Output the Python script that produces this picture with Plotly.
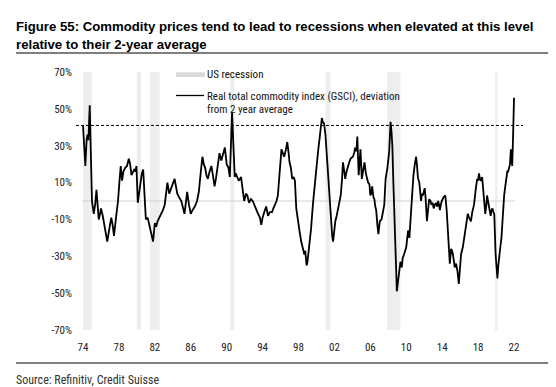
import plotly.graph_objects as go

# ---- data ----
years = [1974.0, 1974.15, 1974.26, 1974.4, 1974.5, 1974.6, 1974.75, 1974.9, 1975.0, 1975.2, 1975.35, 1975.5, 1975.65, 1975.75, 1975.9,
         1976.0, 1976.2, 1976.4, 1976.55, 1976.7, 1976.9, 1977.15, 1977.3, 1977.45, 1977.7, 1977.9, 1978.05, 1978.2, 1978.35, 1978.5,
         1978.7, 1978.9, 1979.1, 1979.25, 1979.4, 1979.55, 1979.7, 1979.85, 1979.95, 1980.1, 1980.25, 1980.4, 1980.55, 1980.7, 1980.85,
         1981.0, 1981.2, 1981.4, 1981.6, 1981.8, 1982.0, 1982.15, 1982.3, 1982.5, 1982.7, 1982.9, 1983.1, 1983.25, 1983.4, 1983.6,
         1983.8, 1984.0, 1984.2, 1984.35, 1984.5, 1984.7, 1984.95, 1985.1, 1985.3, 1985.45, 1985.6, 1985.8, 1986.0, 1986.2, 1986.45,
         1986.7, 1986.9, 1987.1, 1987.3, 1987.45, 1987.6, 1987.75, 1987.9, 1988.1, 1988.3, 1988.5, 1988.65, 1988.8, 1988.95, 1989.2,
         1989.4, 1989.6, 1989.8, 1990.0, 1990.2, 1990.35, 1990.5, 1990.6, 1990.75, 1990.9, 1991.0, 1991.2, 1991.35, 1991.6, 1991.8,
         1991.95, 1992.15, 1992.3, 1992.5, 1992.7, 1992.9, 1993.05, 1993.2, 1993.35, 1993.5, 1993.7, 1993.85, 1994.0, 1994.1, 1994.25,
         1994.4, 1994.6, 1994.8, 1995.05, 1995.2, 1995.4, 1995.55, 1995.7, 1995.9, 1996.1, 1996.25, 1996.4, 1996.6, 1996.75, 1996.9,
         1997.0, 1997.15, 1997.3, 1997.45, 1997.6, 1997.75, 1997.9, 1998.1, 1998.3, 1998.5, 1998.65, 1998.75, 1998.9, 1999.0, 1999.1,
         1999.25, 1999.4, 1999.6, 1999.8, 1999.95, 2000.05, 2000.2, 2000.35, 2000.5, 2000.6, 2000.7, 2000.85, 2001.0, 2001.1, 2001.2,
         2001.35, 2001.45, 2001.55, 2001.65, 2001.75, 2001.85, 2002.0, 2002.1, 2002.25, 2002.4, 2002.55, 2002.7, 2002.85, 2002.95, 2003.1,
         2003.2, 2003.35, 2003.5, 2003.65, 2003.8, 2004.05, 2004.2, 2004.3, 2004.45, 2004.55, 2004.7, 2004.8, 2004.9, 2005.05, 2005.2,
         2005.35, 2005.5, 2005.6, 2005.75, 2005.9, 2006.0, 2006.1, 2006.2, 2006.35, 2006.45, 2006.55, 2006.65, 2006.8, 2006.9, 2007.05,
         2007.25, 2007.4, 2007.55, 2007.7, 2007.9, 2008.1, 2008.2, 2008.25, 2008.35, 2008.45, 2008.55, 2008.65, 2008.8, 2008.95, 2009.1,
         2009.25, 2009.35, 2009.5, 2009.6, 2009.75, 2009.9, 2010.0, 2010.2, 2010.35, 2010.45, 2010.55, 2010.7, 2010.8, 2010.95, 2011.1,
         2011.2, 2011.3, 2011.45, 2011.55, 2011.65, 2011.75, 2011.85, 2012.05, 2012.15, 2012.3, 2012.45, 2012.55, 2012.7, 2012.8, 2012.95,
         2013.05, 2013.2, 2013.3, 2013.45, 2013.55, 2013.65, 2013.75, 2013.85, 2013.95, 2014.15, 2014.35, 2014.5, 2014.65, 2014.85, 2015.0,
         2015.1, 2015.2, 2015.3, 2015.4, 2015.55, 2015.7, 2015.85, 2016.0, 2016.1, 2016.3, 2016.45, 2016.55, 2016.7, 2016.85, 2017.0,
         2017.2, 2017.35, 2017.55, 2017.75, 2017.9, 2018.0, 2018.1, 2018.2, 2018.3, 2018.45, 2018.55, 2018.65, 2018.8, 2018.9, 2019.0,
         2019.1, 2019.2, 2019.3, 2019.4, 2019.5, 2019.6, 2019.7, 2019.8, 2019.95, 2020.15, 2020.25, 2020.35, 2020.5, 2020.6, 2020.7,
         2020.8, 2020.9, 2021.0, 2021.1, 2021.25, 2021.35, 2021.45, 2021.55, 2021.65, 2021.75, 2021.8, 2021.9, 2022.0]
deviation = [41, 30, 19, 33, 36, 33, 52, 20, 0, -7, -2, 6, -4, -10, -7,
             -4, -8, -13, -17, -22, -16, -9, -13, -19, -8, 0, 10, 19, 11, 16,
             18, 19, 23, 20, 14, 16, 17, 16, 19, -1, 5, 12, 15, 17, 4,
             -10, -9, -14, -18, -22, -12, -14, -11, -9, -7, -5, -2, 4, 10, 4,
             7, 9, 12, 8, 4, 2, 0, -3, -7, -1, 5, -2, -7, -5, -3,
             0, 5, 15, 24, 20, 18, 14, 12, 16, 19, 13, 8, 12, 18, 26,
             22, 25, 29, 20, 18, 13, 30, 48, 30, 13, 15, 12, 11, 13, 5,
             0, 4, 3, -1, 1, 0, -2, -3, -5, -7, -9, -13, -9, -7, -5,
             -3, -8, -6, -6, -4, -2, 0, 3, 15, 28, 26, 24, 28, 32, 26,
             21, 18, 12, 13, 11, -4, -10, -16, -22, -26, -29, -27, -35, -33, -29,
             -22, -15, -2, 9, 16, 23, 28, 34, 40, 45, 43, 42, 36, 28, 20,
             8, 0, -7, -15, -19, -22, -15, -11, -8, -4, -1, 3, 12, 21, 16,
             12, 16, 19, 21, 23, 24, 26, 29, 27, 35, 14, 21, 28, 12, 16,
             21, 15, 12.5, 10, 9, 3, 4, 8, 2, 1, -3, -5, -14, -18, -11,
             -10, -6, -2, 12, 18, 27, 36, 43, 38, 30, 12, -5, -29, -49, -43,
             -36, -33, -36, -31, -29, -27, -25, -16, -20, -12, -4, 6, 14, 20, 24,
             19, 12.5, 10, 6, 0, 4, 3, 7, 2, -11, -4, 1, 0, -2, -1,
             -4, -2, -1, -3, 0, -2, -5, -2, 0, 2, 3, -5, -16, -34, -26,
             -27, -29, -33, -36, -34, -38, -45, -36, -29, -25, -20, -17, -11, -7, -9,
             -11, -6, -2, 7, 12, 11, 15, 12, 11, 13, 8, 2, -7, -3, 3,
             0, -3, -5, -8, -5, -4, -6, -7, -29, -42, -35, -29, -24, -20, -11,
             -4, 3, 7, 11, 16, 16, 18, 20, 28, 22, 19, 36, 56]

recession_start = [1974.0, 1980.0, 1981.45, 1990.4, 2001.0, 2007.85, 2019.88]
recession_end = [1975.0, 1980.45, 1982.55, 1990.85, 2001.55, 2009.35, 2020.15]

threshold = 41
tick_years = [1974, 1978, 1982, 1986, 1990, 1994, 1998, 2002, 2006, 2010, 2014, 2018, 2022]
tick_text = ["74", "78", "82", "86", "90", "94", "98", "02", "06", "10", "14", "18", "22"]
y_ticks = [70, 50, 30, 10, -10, -30, -50, -70]
y_text = ["70%", "50%", "30%", "10%", "-10%", "-30%", "-50%", "-70%"]

title_1 = "Figure 55: Commodity prices tend to lead to recessions when elevated at this level"
title_2 = "relative to their 2-year average"
legend_1 = "US recession"
legend_2a = "Real total commodity index (GSCI), deviation"
legend_2b = "from 2 year average"
source = "Source: Refinitiv, Credit Suisse"

# ---- geometry helpers (pixel -> paper) ----
W, H = 556, 387
L, R, T, B = 68, 41, 64, 65
PW, PH = W - L - R, H - T - B

def px(x):
    return (x - L) / PW

def py(y):
    return (H - B - y) / PH

FONT = "Roboto Condensed, Liberation Sans, Arial, sans-serif"
TFONT = "Liberation Sans, Arial, sans-serif"

fig = go.Figure()

shapes = []
for s, e in zip(recession_start, recession_end):
    shapes.append(dict(type="rect", xref="x", yref="paper", x0=s, x1=e, y0=0, y1=1,
                       fillcolor="#eeeeee", line_width=0, layer="below"))
# zero line
shapes.append(dict(type="line", xref="x", yref="y", x0=1973.9, x1=2022.1, y0=0, y1=0,
                   line=dict(color="#d0d0d0", width=1), layer="below"))
# threshold dashed line
shapes.append(dict(type="line", xref="paper", yref="y", x0=0, x1=1, y0=threshold, y1=threshold,
                   line=dict(color="#000000", width=1, dash="3px,2px")))
# title underline and bottom separator
shapes.append(dict(type="line", xref="paper", yref="paper", x0=px(8), x1=px(550), y0=py(45), y1=py(45),
                   line=dict(color="#000000", width=1.2)))
shapes.append(dict(type="line", xref="paper", yref="paper", x0=px(8), x1=px(550), y0=py(355), y1=py(355),
                   line=dict(color="#000000", width=1.2)))
# legend keys
shapes.append(dict(type="rect", xref="paper", yref="paper", x0=px(168), x1=px(197), y0=py(69), y1=py(64.3),
                   fillcolor="#d9d9d9", line_width=0))
shapes.append(dict(type="line", xref="paper", yref="paper", x0=px(168), x1=px(196), y0=py(87.5), y1=py(87.5),
                   line=dict(color="#000000", width=1.3)))

fig.add_trace(go.Scatter(x=years, y=deviation, mode="lines",
                         line=dict(color="#000000", width=1.8), showlegend=False,
                         hoverinfo="x+y"))

annotations = [
    dict(text="<b>" + title_1 + "</b>", x=px(6), y=py(19), xanchor="left", yanchor="middle",
         font=dict(family=TFONT, size=13.2, color="#000000")),
    dict(text="<b>" + title_2 + "</b>", x=px(6), y=py(36.5), xanchor="left", yanchor="middle",
         font=dict(family=TFONT, size=13.2, color="#000000")),
    dict(text=legend_1, x=px(197), y=py(66.5), xanchor="left", yanchor="middle",
         font=dict(family=FONT, size=11, color="#111111")),
    dict(text=legend_2a, x=px(197), y=py(88), xanchor="left", yanchor="middle",
         font=dict(family=FONT, size=11, color="#111111")),
    dict(text=legend_2b, x=px(197), y=py(101), xanchor="left", yanchor="middle",
         font=dict(family=FONT, size=11, color="#111111")),
    dict(text=source, x=px(6), y=py(372), xanchor="left", yanchor="middle",
         font=dict(family=FONT, size=12, color="#333333")),
]
for a in annotations:
    a.update(xref="paper", yref="paper", showarrow=False)

fig.update_layout(
    width=W, height=H,
    margin=dict(l=L, r=R, t=T, b=B),
    paper_bgcolor="#ffffff", plot_bgcolor="#ffffff",
    shapes=shapes, annotations=annotations,
    xaxis=dict(range=[1973.22, 2023.0], tickvals=tick_years, ticktext=tick_text,
               showgrid=False, zeroline=False, showline=False, automargin=False,
               ticks="outside", ticklen=7, tickcolor="rgba(0,0,0,0)",
               tickfont=dict(family=FONT, size=11, color="#222222")),
    yaxis=dict(range=[-70, 70], tickvals=y_ticks, ticktext=y_text,
               showgrid=False, zeroline=False, showline=False, automargin=False,
               ticks="", ticklabelstandoff=3,
               tickfont=dict(family=FONT, size=11, color="#222222")),
)

fig.write_html("out.html")
